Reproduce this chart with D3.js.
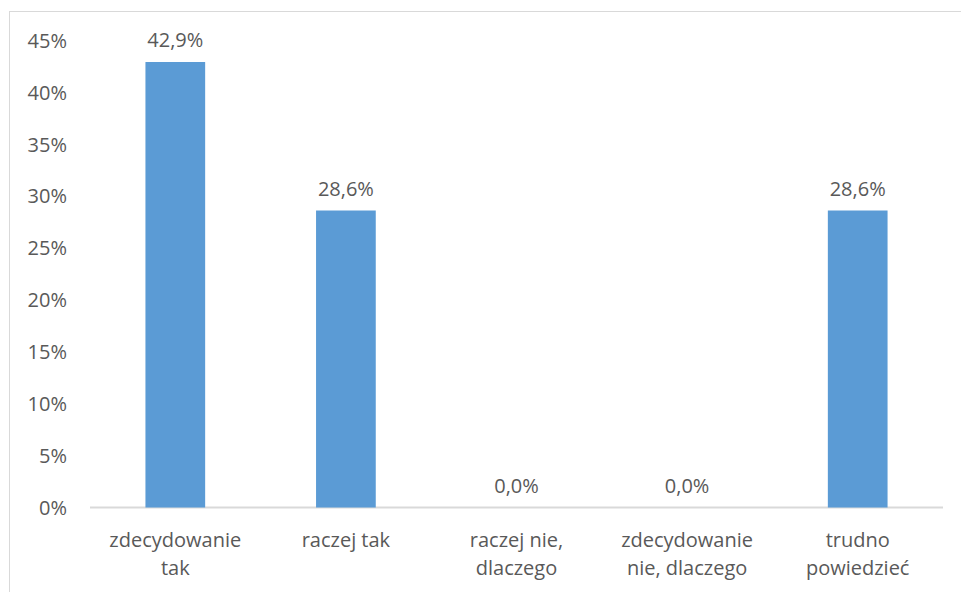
<!DOCTYPE html>
<html><head><meta charset="utf-8">
<script src="https://cdn.jsdelivr.net/npm/d3@7"></script>
<style>body{margin:0;background:#fff}svg{display:block}</style>
</head><body>
<svg id="c" width="961" height="592"></svg>
<script>
const categories = [["zdecydowanie","tak"],["raczej tak"],["raczej nie,","dlaczego"],["zdecydowanie","nie, dlaczego"],["trudno","powiedzieć"]];
const values = [42.9, 28.6, 0.0, 0.0, 28.6];
const yTicks = [0,5,10,15,20,25,30,35,40,45];

const svg = d3.select("#c");
const font = "'Open Sans', sans-serif";
const txt = "#595959";
const fs = 20;
svg.append("rect").attr("x",9.5).attr("y",11.5).attr("width",1000).attr("height",1000)
  .attr("fill","#fff").attr("stroke","#d9d9d9").attr("stroke-width",1);

const x = d3.scaleBand().domain(d3.range(values.length)).range([90,943]).paddingInner(0.65).paddingOuter(0.325);
const y = d3.scaleLinear().domain([0,45]).range([507.5,40.2]);

const yAxis = d3.axisLeft(y).tickValues(yTicks).tickSize(0).tickPadding(0).tickFormat(d=>d+"%");
const ga = svg.append("g").attr("transform","translate(67,0)").call(yAxis);
ga.select(".domain").remove();
ga.selectAll("text").attr("font-family",font).attr("font-size",fs).attr("fill",txt).attr("dy","0.35em");

svg.append("line").attr("x1",90).attr("x2",943).attr("y1",y(0)).attr("y2",y(0))
  .attr("stroke","#d9d9d9").attr("stroke-width",2);

svg.selectAll("rect.bar").data(values).enter().append("rect").attr("class","bar")
  .attr("x",(d,i)=>x(i)).attr("width",x.bandwidth())
  .attr("y",d=>y(d)).attr("height",d=>y(0)-y(d)).attr("fill","#5B9BD5");

svg.selectAll("text.val").data(values).enter().append("text").attr("class","val")
  .attr("x",(d,i)=>x(i)+x.bandwidth()/2).attr("y",d=>y(d)-15)
  .attr("text-anchor","middle").attr("font-family",font).attr("font-size",fs).attr("fill",txt)
  .text(d=>d.toFixed(1).replace(".",",")+"%");

const gc = svg.selectAll("text.cat").data(categories).enter().append("text").attr("class","cat")
  .attr("text-anchor","middle").attr("font-family",font).attr("font-size",fs).attr("fill",txt);
gc.each(function(lines,i){
  const t = d3.select(this);
  lines.forEach((l,j)=>t.append("tspan").attr("x",x(i)+x.bandwidth()/2).attr("y",547+j*28).text(l));
});
</script>
</body></html>
